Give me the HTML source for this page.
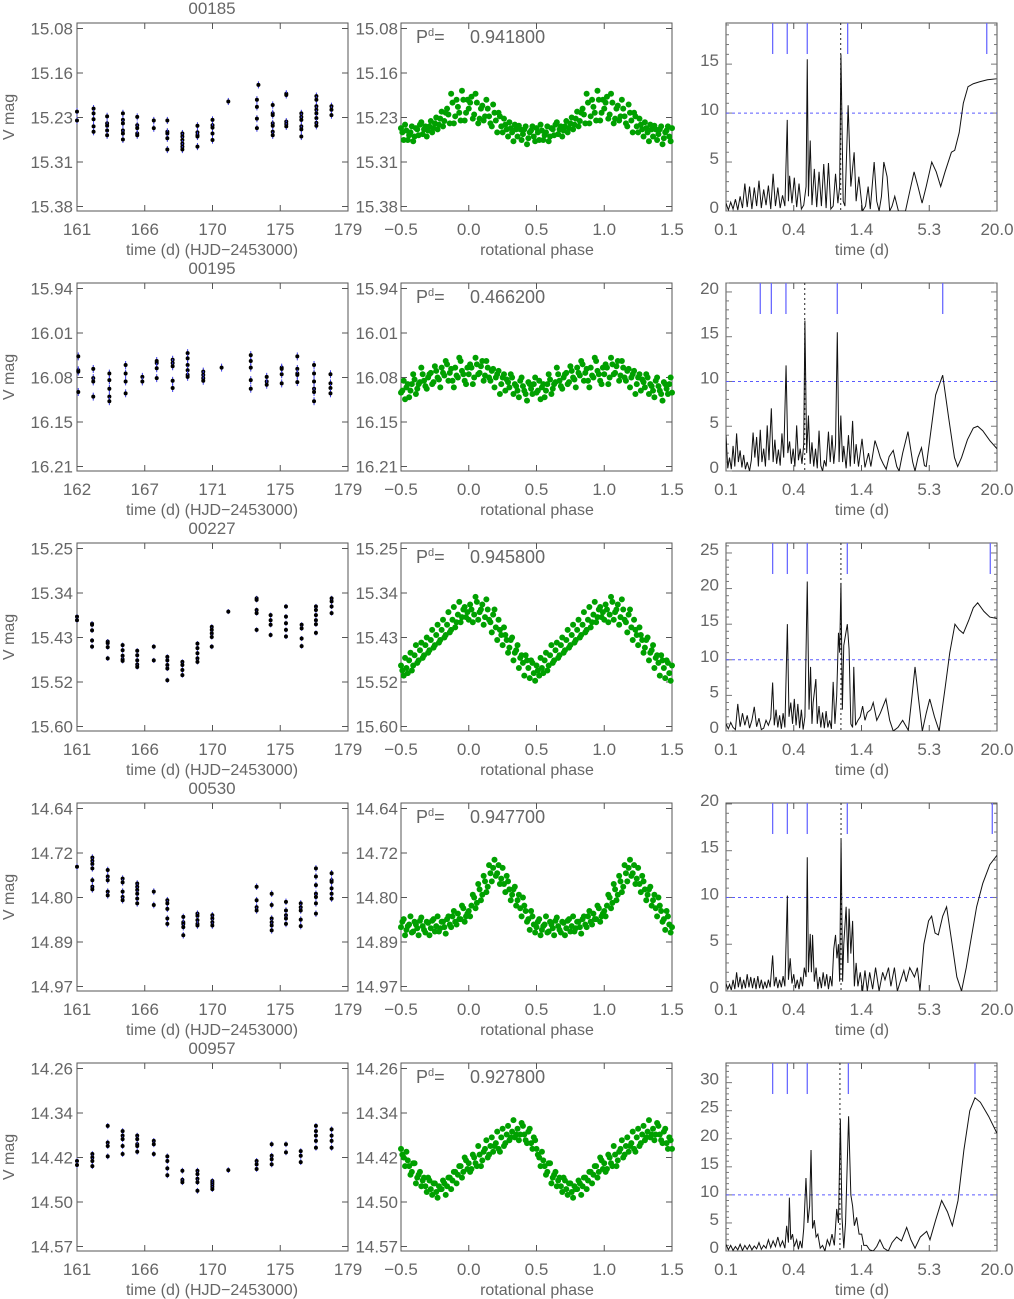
<!DOCTYPE html>
<html><head><meta charset="utf-8"><title>Light curves</title>
<style>
html,body{margin:0;padding:0;background:#fff;}
svg{display:block;}
text{font-family:"Liberation Sans",sans-serif;fill:#666;}
</style></head>
<body>
<svg id="chart" width="1014" height="1299" viewBox="0 0 1014 1299" xmlns="http://www.w3.org/2000/svg"></svg>
<script>
// ---------- data ----------
const starIds=['00185','00195','00227','00530','00957'];
const periods=[0.9418,0.4662,0.9458,0.9477,0.9278];
const periodLabels=['0.941800','0.466200','0.945800','0.947700','0.927800'];
const magTicks1=['15.08','15.16','15.23','15.31','15.38'];
const magTicks2=['15.94','16.01','16.08','16.15','16.21'];
const magTicks3=['15.25','15.34','15.43','15.52','15.60'];
const magTicks4=['14.64','14.72','14.80','14.89','14.97'];
const magTicks5=['14.26','14.34','14.42','14.50','14.57'];
const timeTicksA=['161','166','170','175','179'];
const timeTicksB=['162','167','171','175','179'];
const timeDomA=[161,179];
const timeDomB=[162,179];
const phaseTicks=['\u22120.5','0.0','0.5','1.0','1.5'];
const periodTicks=['0.1','0.4','1.4','5.3','20.0'];
const powerMax=[19.2,21.0,26.4,20.1,33.5];
const magErr=[0.006,0.006,0.005,0.006,0.005];

// light curve groups: [time, [mags]]
const lc1=[[161.0,[15.22,15.235]],[162.1,[15.215,15.223,15.233,15.245,15.254]],[163.0,[15.228,15.24,15.244,15.252,15.26]],[164.05,[15.223,15.234,15.24,15.252,15.257,15.267]],[165.0,[15.229,15.243,15.248,15.257,15.26]],[166.1,[15.235,15.248]],[167.0,[15.235,15.254,15.257,15.265,15.284]],[168.0,[15.257,15.262,15.268,15.274,15.279,15.284]],[169.0,[15.244,15.255,15.26,15.262,15.279]],[170.0,[15.234,15.243,15.247,15.257,15.268]],[171.05,[15.203]],[172.95,[15.2,15.212,15.232,15.248]],[173.05,[15.175]],[174.0,[15.209,15.223,15.226,15.24,15.244,15.254,15.26]],[174.9,[15.19,15.192,15.237,15.241,15.245]],[175.9,[15.223,15.229,15.234,15.245,15.25,15.262]],[176.9,[15.194,15.2,15.211,15.217,15.223,15.231,15.239,15.244]],[177.9,[15.211,15.217,15.226]]];
const lc2=[[162.08,[16.043,16.064,16.066,16.097]],[163.02,[16.062,16.076,16.081,16.104]],[164.03,[16.069,16.079,16.092,16.104,16.111]],[165.05,[16.056,16.069,16.081,16.099]],[166.1,[16.074,16.081]],[167.0,[16.053,16.061,16.076,16.05]],[168.0,[16.048,16.053,16.058,16.08,16.091]],[168.94,[16.038,16.046,16.056,16.064,16.071,16.074]],[169.92,[16.066,16.071,16.076,16.08]],[171.07,[16.06]],[172.9,[16.092,16.079,16.05,16.041,16.06]],[173.9,[16.081,16.086,16.074]],[174.84,[16.07,16.084,16.06,16.062]],[175.82,[16.043,16.062,16.069,16.071,16.082]],[176.87,[16.056,16.069,16.081,16.092,16.097,16.111]],[177.9,[16.07,16.084,16.091,16.099]]];
const lc3=[[161.0,[15.384,15.391]],[162.0,[15.398,15.4,15.411,15.431,15.443]],[163.04,[15.433,15.436,15.444,15.466]],[164.03,[15.44,15.45,15.461,15.468,15.471]],[165.0,[15.451,15.46,15.47,15.478,15.483]],[166.1,[15.443,15.47]],[167.0,[15.463,15.47,15.479,15.486,15.509]],[168.0,[15.473,15.479,15.489,15.499]],[169.0,[15.437,15.446,15.456,15.466,15.473]],[169.95,[15.404,15.41,15.417,15.424,15.443]],[171.05,[15.374]],[172.93,[15.348,15.351,15.371,15.377,15.41]],[173.86,[15.381,15.391,15.4,15.42]],[174.88,[15.364,15.384,15.397,15.41,15.423]],[175.92,[15.4,15.407,15.427,15.442]],[176.87,[15.364,15.371,15.381,15.391,15.399,15.416]],[177.91,[15.348,15.354,15.364,15.377]]];
const lc4=[[161.0,[14.748]],[162.02,[14.731,14.737,14.743,14.751,14.773,14.785,14.79]],[163.04,[14.754,14.766,14.773,14.794,14.801]],[164.03,[14.77,14.777,14.794,14.804,14.81]],[165.0,[14.779,14.785,14.791,14.798,14.807,14.816]],[166.1,[14.794,14.819]],[167.0,[14.81,14.816,14.826,14.844,14.854]],[168.06,[14.841,14.851,14.854,14.86,14.875]],[169.0,[14.835,14.839,14.847,14.854,14.857]],[169.99,[14.838,14.844,14.851,14.857]],[172.93,[14.785,14.81,14.823,14.829]],[173.93,[14.798,14.819,14.844,14.851,14.857,14.866]],[174.88,[14.813,14.829,14.838,14.844,14.854]],[175.86,[14.816,14.823,14.829,14.846,14.858]],[176.87,[14.751,14.766,14.782,14.798,14.804,14.816,14.835]],[177.91,[14.76,14.773,14.776,14.788,14.798,14.807]]];
const lc5=[[161.0,[14.421,14.428]],[162.02,[14.409,14.415,14.421,14.43]],[163.04,[14.36,14.389,14.395,14.413]],[164.03,[14.369,14.377,14.383,14.395,14.409]],[165.0,[14.377,14.383,14.392,14.395,14.405]],[166.1,[14.386,14.392,14.409]],[167.0,[14.413,14.421,14.434,14.446]],[168.0,[14.438,14.454,14.458]],[169.0,[14.438,14.444,14.452,14.458,14.473]],[169.99,[14.456,14.459,14.462,14.466,14.47]],[171.05,[14.437]],[172.93,[14.421,14.427,14.435]],[173.93,[14.392,14.412,14.418,14.427]],[174.88,[14.392,14.406]],[175.86,[14.404,14.412,14.423]],[176.87,[14.36,14.369,14.377,14.386,14.398]],[177.91,[14.366,14.377,14.386,14.398]]];

// phased light curves
const phases=[0,0.02,0.04,0.06,0.08,0.10,0.12,0.14,0.16,0.18,0.20,0.22,0.24,0.26,0.28,0.30,0.32,0.34,0.36,0.38,0.40,0.42,0.44,0.46,0.48,0.50,0.52,0.54,0.56,0.58,0.60,0.62,0.64,0.66,0.68,0.70,0.72,0.74,0.76,0.78,0.80,0.82,0.84,0.86,0.88,0.90,0.92,0.94,0.96,0.98];
const phasesB=[0.01,0.03,0.05,0.07,0.09,0.11,0.13,0.15,0.17,0.19,0.21,0.23,0.25,0.27,0.29,0.31,0.33,0.35,0.37,0.39,0.41,0.43,0.45,0.47,0.49,0.51,0.53,0.55,0.57,0.59,0.61,0.63,0.65,0.67,0.69,0.71,0.73,0.75,0.77,0.79,0.81,0.83,0.85,0.87,0.89,0.91,0.93,0.95,0.97,0.99];
const phMag1=[15.215,15.195,15.225,15.205,15.232,15.21,15.228,15.215,15.24,15.208,15.235,15.222,15.245,15.232,15.25,15.238,15.255,15.242,15.262,15.25,15.258,15.245,15.265,15.252,15.262,15.248,15.268,15.252,15.26,15.245,15.262,15.25,15.242,15.258,15.245,15.252,15.236,15.248,15.23,15.242,15.22,15.236,15.215,15.24,15.205,15.228,15.212,15.235,15.2,15.222];
const phMag1b=[15.205,15.232,15.19,15.24,15.215,15.235,15.2,15.228,15.245,15.222,15.255,15.228,15.255,15.242,15.262,15.248,15.27,15.25,15.244,15.268,15.25,15.275,15.255,15.245,15.27,15.255,15.242,15.268,15.255,15.27,15.248,15.26,15.238,15.25,15.262,15.245,15.255,15.24,15.25,15.232,15.245,15.222,15.225,15.19,15.24,15.2,15.222,15.185,15.235,15.2];
const phMag2=[16.07,16.06,16.075,16.055,16.068,16.05,16.072,16.06,16.08,16.062,16.075,16.065,16.085,16.07,16.078,16.09,16.075,16.085,16.095,16.08,16.088,16.1,16.082,16.092,16.085,16.098,16.08,16.09,16.105,16.085,16.078,16.092,16.082,16.07,16.088,16.075,16.068,16.082,16.065,16.078,16.06,16.072,16.055,16.068,16.08,16.06,16.075,16.05,16.07,16.085];
const phMag2b=[16.055,16.085,16.045,16.07,16.058,16.08,16.05,16.075,16.065,16.09,16.07,16.1,16.075,16.095,16.082,16.07,16.1,16.088,16.105,16.075,16.095,16.11,16.085,16.1,16.075,16.095,16.108,16.085,16.095,16.07,16.1,16.085,16.06,16.08,16.092,16.07,16.085,16.058,16.075,16.09,16.068,16.05,16.08,16.062,16.09,16.072,16.045,16.065,16.08,16.06];
const phMag3=[15.39,15.37,15.38,15.355,15.375,15.36,15.385,15.37,15.395,15.38,15.405,15.39,15.42,15.405,15.43,15.445,15.425,15.455,15.44,15.465,15.475,15.46,15.485,15.47,15.495,15.48,15.5,15.485,15.47,15.49,15.46,15.475,15.45,15.465,15.44,15.455,15.43,15.445,15.42,15.435,15.41,15.425,15.4,15.415,15.39,15.405,15.38,15.395,15.37,15.385];
const phMag3b=[15.36,15.395,15.345,15.39,15.37,15.4,15.35,15.39,15.415,15.37,15.43,15.41,15.44,15.42,15.455,15.43,15.47,15.45,15.485,15.46,15.5,15.47,15.505,15.475,15.51,15.49,15.465,15.495,15.455,15.48,15.44,15.47,15.435,15.46,15.425,15.45,15.41,15.44,15.4,15.43,15.39,15.42,15.375,15.41,15.365,15.395,15.355,15.385,15.365,15.375];
const phMag4=[14.83,14.82,14.805,14.815,14.79,14.8,14.775,14.785,14.76,14.75,14.765,14.745,14.77,14.78,14.765,14.79,14.8,14.785,14.81,14.825,14.805,14.83,14.845,14.83,14.855,14.86,14.845,14.865,14.855,14.87,14.85,14.862,14.848,14.858,14.87,14.852,14.862,14.845,14.858,14.868,14.85,14.86,14.845,14.855,14.84,14.85,14.835,14.845,14.825,14.84];
const phMag4b=[14.84,14.8,14.825,14.78,14.81,14.765,14.795,14.745,14.775,14.735,14.76,14.78,14.75,14.795,14.775,14.81,14.79,14.82,14.8,14.84,14.82,14.85,14.865,14.84,14.87,14.85,14.875,14.858,14.84,14.868,14.855,14.875,14.842,14.865,14.85,14.875,14.848,14.868,14.84,14.862,14.85,14.872,14.84,14.86,14.83,14.855,14.845,14.82,14.85,14.835];
const phMag5=[14.425,14.435,14.415,14.43,14.41,14.42,14.4,14.415,14.395,14.405,14.39,14.4,14.38,14.395,14.375,14.385,14.37,14.38,14.365,14.375,14.36,14.385,14.37,14.39,14.38,14.4,14.415,14.405,14.43,14.44,14.425,14.45,14.44,14.455,14.465,14.45,14.47,14.46,14.475,14.465,14.47,14.46,14.465,14.45,14.455,14.44,14.445,14.43,14.44,14.42];
const phMag5b=[14.44,14.41,14.425,14.395,14.43,14.405,14.385,14.41,14.38,14.395,14.37,14.405,14.365,14.39,14.36,14.38,14.35,14.375,14.385,14.355,14.375,14.39,14.365,14.4,14.385,14.41,14.43,14.42,14.445,14.425,14.46,14.445,14.465,14.45,14.475,14.455,14.48,14.46,14.485,14.47,14.455,14.48,14.45,14.47,14.44,14.46,14.43,14.45,14.415,14.435];

// periodograms: [log10 period (d), power]
const pg1=[[-1,0.8],[-0.98,0.1],[-0.96,0.9],[-0.94,0.2],[-0.92,1.2],[-0.9,0.1],[-0.88,1.5],[-0.86,0.3],[-0.84,2.8],[-0.82,0.4],[-0.8,2.5],[-0.78,0.2],[-0.76,2.4],[-0.74,0.5],[-0.72,3.1],[-0.7,0.3],[-0.68,2.2],[-0.66,0.6],[-0.64,2.6],[-0.62,0.2],[-0.6,3.8],[-0.58,0.5],[-0.56,2.4],[-0.54,0.3],[-0.52,1.6],[-0.5,0.5],[-0.48,9.3],[-0.47,1.0],[-0.46,3.6],[-0.44,0.8],[-0.42,3.4],[-0.4,0.4],[-0.38,2.8],[-0.36,0.2],[-0.34,0.6],[-0.32,2.5],[-0.31,15.5],[-0.3,1.5],[-0.285,7.2],[-0.27,0.6],[-0.25,4.3],[-0.23,0.4],[-0.21,4.0],[-0.19,0.5],[-0.17,4.8],[-0.15,0.3],[-0.13,4.9],[-0.11,0.2],[-0.09,0.5],[-0.07,3.8],[-0.05,0.8],[-0.035,2.5],[-0.024,16.0],[-0.005,1.0],[0.01,0.5],[0.037,10.8],[0.06,2.5],[0.088,6.0],[0.105,1.0],[0.128,3.5],[0.159,0],[0.185,0.5],[0.207,2.5],[0.225,0.2],[0.258,5.0],[0.28,1.0],[0.30,0],[0.32,1.5],[0.34,5.0],[0.368,3.5],[0.39,0],[0.41,0.5],[0.433,1.5],[0.464,0],[0.50,0],[0.524,0],[0.56,2.0],[0.597,4.0],[0.63,2.5],[0.665,0.8],[0.70,2.5],[0.747,5.0],[0.785,4.0],[0.823,2.5],[0.86,4.0],[0.914,6.0],[0.942,6.2],[0.98,8.0],[1.015,11.0],[1.055,12.7],[1.10,13.0],[1.154,13.2],[1.22,13.4],[1.296,13.5]];
const pg2=[[-1,4.0],[-0.985,0.3],[-0.97,1.5],[-0.955,0.2],[-0.94,2.8],[-0.925,0.5],[-0.91,4.2],[-0.895,1.0],[-0.88,2.3],[-0.865,0.4],[-0.85,1.8],[-0.835,0.2],[-0.82,1.0],[-0.8,0],[-0.785,1.2],[-0.77,4.3],[-0.755,1.5],[-0.74,3.8],[-0.725,0.5],[-0.709,4.6],[-0.695,1.0],[-0.68,2.5],[-0.665,0.5],[-0.65,5.1],[-0.635,1.2],[-0.615,7.0],[-0.6,1.0],[-0.585,3.5],[-0.57,0.8],[-0.555,2.4],[-0.54,0.6],[-0.525,4.2],[-0.51,1.5],[-0.49,11.8],[-0.475,2.0],[-0.46,3.3],[-0.445,0.8],[-0.43,2.5],[-0.415,0.5],[-0.4,5.1],[-0.385,1.2],[-0.37,2.5],[-0.355,0.8],[-0.34,3.0],[-0.33,16.8],[-0.315,2.0],[-0.3,6.2],[-0.285,0.8],[-0.27,3.2],[-0.255,0.5],[-0.24,2.5],[-0.225,0.3],[-0.21,4.5],[-0.195,0.6],[-0.18,0],[-0.165,1.2],[-0.15,0.5],[-0.13,4.4],[-0.115,1.0],[-0.1,4.0],[-0.085,0.8],[-0.07,3.0],[-0.055,15.5],[-0.04,1.0],[-0.025,6.2],[-0.01,1.0],[0.0,2.8],[0.02,0.3],[0.04,4.0],[0.055,0.5],[0.075,5.6],[0.09,0.8],[0.105,3.0],[0.125,0.5],[0.155,3.6],[0.18,0.4],[0.21,2.0],[0.23,0.5],[0.265,3.4],[0.29,2.4],[0.31,1.5],[0.335,0.8],[0.36,0.2],[0.385,1.6],[0.42,2.3],[0.45,0.5],[0.47,0],[0.5,2.0],[0.545,4.4],[0.585,1.0],[0.605,0],[0.63,1.5],[0.66,2.6],[0.685,0.6],[0.7,0.5],[0.73,3.5],[0.78,8.5],[0.84,10.7],[0.89,6.0],[0.94,1.5],[0.967,0.5],[1.0,1.5],[1.05,3.5],[1.1,4.8],[1.137,5.0],[1.18,4.5],[1.24,3.4],[1.3,2.5]];
const pg3=[[-1,1.0],[-0.98,0.3],[-0.96,1.2],[-0.94,0.5],[-0.92,0.2],[-0.9,3.8],[-0.88,0.6],[-0.86,2.5],[-0.84,0.8],[-0.82,2.2],[-0.8,0.4],[-0.78,1.5],[-0.76,3.4],[-0.74,0.6],[-0.72,1.8],[-0.7,0.2],[-0.68,0.4],[-0.66,1.5],[-0.64,0.8],[-0.62,1.8],[-0.604,6.8],[-0.59,0.8],[-0.575,3.0],[-0.56,0.5],[-0.545,2.2],[-0.53,0.3],[-0.515,2.5],[-0.5,0.5],[-0.479,15.0],[-0.465,2.0],[-0.45,4.0],[-0.435,1.0],[-0.42,4.5],[-0.405,0.8],[-0.39,3.8],[-0.375,0.4],[-0.36,3.0],[-0.345,0.2],[-0.33,2.0],[-0.31,21.0],[-0.295,3.0],[-0.282,9.0],[-0.27,1.0],[-0.26,4.0],[-0.237,7.3],[-0.225,1.0],[-0.21,3.5],[-0.195,0.5],[-0.18,2.6],[-0.165,0.4],[-0.15,2.8],[-0.135,0.5],[-0.12,1.5],[-0.105,0.3],[-0.09,6.9],[-0.075,1.0],[-0.06,5.0],[-0.045,13.8],[-0.035,11.0],[-0.024,20.8],[-0.012,3.0],[0.0,12.0],[0.03,15.0],[0.045,11.5],[0.06,1.0],[0.075,0.5],[0.085,9.0],[0.1,0.8],[0.12,1.5],[0.14,2.0],[0.16,3.5],[0.18,1.5],[0.2,2.6],[0.23,3.0],[0.25,4.0],[0.28,1.5],[0.31,2.5],[0.358,4.5],[0.39,1.5],[0.42,0],[0.46,0.5],[0.5,1.5],[0.548,0.1],[0.58,5.0],[0.605,9.0],[0.635,4.5],[0.667,0],[0.7,2.5],[0.73,4.5],[0.77,2.0],[0.81,0],[0.86,6.0],[0.9,11.0],[0.944,15.0],[0.98,14.2],[1.015,13.7],[1.06,15.5],[1.1,17.3],[1.137,18.0],[1.19,16.8],[1.24,16.0],[1.3,15.8]];
const pg4=[[-1,0.8],[-0.985,0.2],[-0.97,0.7],[-0.955,0.1],[-0.94,1.2],[-0.925,0.2],[-0.91,2.0],[-0.895,0.4],[-0.88,1.5],[-0.865,0.2],[-0.85,1.2],[-0.835,0.3],[-0.82,1.8],[-0.805,0.4],[-0.79,1.5],[-0.775,0.3],[-0.76,1.4],[-0.745,0.2],[-0.73,1.6],[-0.715,0.3],[-0.7,1.2],[-0.685,0.2],[-0.67,1.0],[-0.655,0.3],[-0.64,1.2],[-0.625,0.4],[-0.604,3.8],[-0.59,0.5],[-0.575,1.5],[-0.56,0.3],[-0.545,1.2],[-0.53,0.4],[-0.515,1.6],[-0.5,0.5],[-0.479,10.2],[-0.47,1.2],[-0.455,3.5],[-0.44,0.8],[-0.425,1.8],[-0.41,0.3],[-0.395,1.2],[-0.38,0.2],[-0.365,1.5],[-0.35,0.5],[-0.335,2.5],[-0.32,1.5],[-0.31,14.3],[-0.3,2.0],[-0.285,6.1],[-0.275,2.0],[-0.265,6.0],[-0.25,1.0],[-0.235,2.5],[-0.22,0.2],[-0.205,1.5],[-0.19,0.3],[-0.175,2.0],[-0.16,0.5],[-0.145,1.8],[-0.13,0.2],[-0.115,1.6],[-0.1,0.5],[-0.085,4.5],[-0.07,6.0],[-0.058,3.5],[-0.045,5.0],[-0.035,1.0],[-0.023,16.2],[-0.01,1.0],[0.0,5.0],[0.02,9.0],[0.035,3.0],[0.045,8.8],[0.06,4.0],[0.075,7.5],[0.09,0.5],[0.105,3.0],[0.12,0.5],[0.14,2.0],[0.16,0],[0.18,2.2],[0.2,0],[0.22,2.0],[0.245,0.2],[0.27,2.5],[0.3,0],[0.33,2.0],[0.35,1.2],[0.38,2.5],[0.4,0.5],[0.43,2.5],[0.455,0],[0.48,1.0],[0.51,2.2],[0.53,1.0],[0.56,2.5],[0.6,1.5],[0.625,2.5],[0.647,0],[0.68,5.0],[0.72,7.5],[0.746,8.0],[0.775,6.2],[0.803,6.0],[0.84,8.0],[0.873,9.0],[0.92,5.0],[0.96,1.5],[1.0,0],[1.04,2.5],[1.08,5.5],[1.128,9.0],[1.18,11.5],[1.24,13.5],[1.3,14.5]];
const pg5=[[-1,1.2],[-0.98,0.2],[-0.96,1.0],[-0.94,0.1],[-0.92,0.8],[-0.9,0.2],[-0.88,1.2],[-0.86,0.1],[-0.84,1.0],[-0.82,0.3],[-0.8,1.1],[-0.78,0.2],[-0.76,0.9],[-0.74,0.4],[-0.72,1.5],[-0.7,0.3],[-0.68,1.0],[-0.66,0.5],[-0.64,2.0],[-0.62,0.6],[-0.6,1.8],[-0.58,0.8],[-0.56,2.5],[-0.54,0.8],[-0.52,1.8],[-0.5,0.5],[-0.485,4.5],[-0.47,1.5],[-0.462,9.5],[-0.45,2.0],[-0.435,3.0],[-0.42,0.8],[-0.4,2.0],[-0.385,0.3],[-0.37,1.8],[-0.355,0.5],[-0.34,4.0],[-0.321,13.0],[-0.305,5.0],[-0.29,8.0],[-0.278,18.0],[-0.265,4.0],[-0.25,5.5],[-0.235,2.5],[-0.22,3.0],[-0.2,0.5],[-0.18,1.0],[-0.16,0],[-0.14,2.0],[-0.12,1.0],[-0.1,3.0],[-0.08,1.0],[-0.06,7.5],[-0.045,5.0],[-0.029,23.5],[-0.015,6.0],[0.0,0.5],[0.015,5.0],[0.041,24.0],[0.06,10.0],[0.075,8.0],[0.09,4.5],[0.109,6.0],[0.13,3.0],[0.152,3.0],[0.17,1.0],[0.194,1.0],[0.22,0.2],[0.25,0],[0.28,0.8],[0.307,2.0],[0.34,0.5],[0.378,0],[0.41,1.5],[0.449,2.5],[0.49,1.8],[0.534,4.2],[0.57,2.0],[0.605,0.5],[0.65,2.5],[0.704,3.5],[0.732,2.0],[0.78,5.5],[0.831,9.0],[0.88,7.0],[0.922,4.5],[0.97,9.0],[1.02,18.0],[1.07,25.0],[1.114,27.3],[1.16,26.5],[1.23,24.0],[1.3,21.0]];

// candidate period markers (log10 days)
const marks1=[-0.604,-0.48,-0.31,0.033,1.214];
const marks2=[-0.709,-0.615,-0.491,-0.055,0.84];
const marks3=[-0.604,-0.479,-0.31,0.03,1.244];
const marks4=[-0.604,-0.479,-0.31,0.03,1.261];
const marks5=[-0.604,-0.479,-0.31,0.039,1.114];
const thresholdPower=10;

// ---------- drawing ----------
const NS='http://www.w3.org/2000/svg';
const svg=document.getElementById('chart');
function mk(tag,attrs,parent){const e=document.createElementNS(NS,tag);for(const k in attrs)e.setAttribute(k,attrs[k]);(parent||svg).appendChild(e);return e;}
function txt(s,x,y,anchor,parent,size){const e=mk('text',{x:x,y:y,'text-anchor':anchor||'middle','font-size':size||16},parent);e.textContent=s;return e;}

const H=188, PW=271;
const X1=77, X2=401, X3=726;
function xTime(t,dom){return X1+(t-dom[0])/(dom[1]-dom[0])*PW;}
function xPhase(p){return X2+(p+0.5)/2*PW;}
function xLogP(l){return X3+(l+1)/2.30103*PW;}
function yMag(m,ticks,T){const a=parseFloat(ticks[0]),b=parseFloat(ticks[4]);return T+5.5+(m-a)/(b-a)*(H-10);}
function yPow(v,pmax,T){return T+H-v/pmax*H;}

const rowDefs=[
 {lc:lc1,ph:phMag1,phb:phMag1b,pg:pg1,mk:marks1,mt:magTicks1,tt:timeTicksA,td:timeDomA},
 {lc:lc2,ph:phMag2,phb:phMag2b,pg:pg2,mk:marks2,mt:magTicks2,tt:timeTicksB,td:timeDomB},
 {lc:lc3,ph:phMag3,phb:phMag3b,pg:pg3,mk:marks3,mt:magTicks3,tt:timeTicksA,td:timeDomA},
 {lc:lc4,ph:phMag4,phb:phMag4b,pg:pg4,mk:marks4,mt:magTicks4,tt:timeTicksA,td:timeDomA},
 {lc:lc5,ph:phMag5,phb:phMag5b,pg:pg5,mk:marks5,mt:magTicks5,tt:timeTicksA,td:timeDomA}
];

const defs=mk('defs',{});
rowDefs.forEach((R,r)=>{
  const T=23+260*r, B=T+H;
  const g=mk('g',{});
  
  

  const cp=mk('clipPath',{id:'clip'+r},defs);
  mk('rect',{x:X3,y:T,width:PW,height:H},cp);

  const ti=txt(starIds[r],212,T-9,'middle',g,17);
  
  

  [X1,X2,X3].forEach((x0,ci)=>{
    const fr=mk('rect',{x:x0,y:T,width:PW,height:H,fill:'none',stroke:'#555','stroke-width':1},g);
    
    
  });

  // ---- light curve ----
  const lcg=mk('g',{},g);
  
  
  R.mt.forEach((lab,i)=>{
    const y=yMag(parseFloat(R.mt[0])+i*(parseFloat(R.mt[4])-parseFloat(R.mt[0]))/4,R.mt,T);
    mk('line',{x1:X1,x2:X1+6,y1:y,y2:y,stroke:'#555'},lcg);
    mk('line',{x1:X1+PW-6,x2:X1+PW,y1:y,y2:y,stroke:'#555'},lcg);
    mk('line',{x1:X2,x2:X2+6,y1:y,y2:y,stroke:'#555'},lcg);
    mk('line',{x1:X2+PW-6,x2:X2+PW,y1:y,y2:y,stroke:'#555'},lcg);
    const l1=txt(lab,73,y+6,'end',lcg,17);
    
    
    const l2=txt(lab,398,y+6,'end',lcg,17);
    
    
  });
  R.tt.forEach((lab,i)=>{
    const x=X1+i*PW/4;
    mk('line',{x1:x,x2:x,y1:B,y2:B-6,stroke:'#555'},lcg);
    mk('line',{x1:x,x2:x,y1:T,y2:T+6,stroke:'#555'},lcg);
    const l=txt(lab,x,B+24,'middle',lcg,17);
    
    
  });
  const vm=txt('V mag',0,0,'middle',lcg,16);
  vm.setAttribute('transform','translate(14,'+(T+94)+') rotate(-90)');
  
  
  const xt=txt('time (d) (HJD\u22122453000)',212,B+44,'middle',lcg,16);
  
  
  R.lc.forEach(grp=>{
    const t=grp[0];
    grp[1].forEach(m=>{
      const x=xTime(t,R.td), y=yMag(m,R.mt,T);
      const eb=mk('line',{x1:x,x2:x,y1:yMag(m-magErr[r],R.mt,T),y2:yMag(m+magErr[r],R.mt,T),stroke:'#3838e8','stroke-width':1},lcg);
      
      
      const c=mk('circle',{cx:x,cy:y,r:2,fill:'#000'},lcg);
      
      
    });
  });

  // ---- phase plot ----
  const phg=mk('g',{},g);
  
  
  phaseTicks.forEach((lab,i)=>{
    const x=X2+i*PW/4;
    mk('line',{x1:x,x2:x,y1:B,y2:B-6,stroke:'#555'},phg);
    mk('line',{x1:x,x2:x,y1:T,y2:T+6,stroke:'#555'},phg);
    const l=txt(lab,x,B+24,'middle',phg,17);
    
    
  });
  const pt=txt('rotational phase',537,B+44,'middle',phg,16);
  
  
  const pl=mk('text',{x:416,y:T+20,'font-size':18},phg);
  
  
  pl.appendChild(document.createTextNode('P'));
  const sup=mk('tspan',{'font-size':11,dy:-7},pl); sup.textContent='d';
  const eq=mk('tspan',{dy:7,'font-size':18},pl); eq.textContent='=';
  const pv=txt(periodLabels[r],470,T+20,'start',phg,18);
  
  
  [[phases,R.ph],[phasesB,R.phb]].forEach(set=>{
    set[0].forEach((p,i)=>{
      [p-1,p,p+1].forEach(pp=>{
        if(pp<-0.5||pp>1.5)return;
        const c=mk('circle',{cx:xPhase(pp),cy:yMag(set[1][i],R.mt,T),r:3,fill:'#00a000'},phg);
        
        
      });
    });
  });

  // ---- periodogram ----
  const pgg=mk('g',{},g);
  
  
  const pmax=powerMax[r];
  for(let v=0;v<=pmax;v+=1){
    const y=yPow(v,pmax,T), len=(v%5===0)?6:3;
    mk('line',{x1:X3,x2:X3+len,y1:y,y2:y,stroke:'#777'},pgg);
    mk('line',{x1:X3+PW-len,x2:X3+PW,y1:y,y2:y,stroke:'#777'},pgg);
    if(v%5===0){
      const l=txt(String(v),719,y+2,'end',pgg,17);
      
      
    }
  }
  periodTicks.forEach((lab,i)=>{
    const x=X3+i*PW/4;
    mk('line',{x1:x,x2:x,y1:B,y2:B-6,stroke:'#555'},pgg);
    mk('line',{x1:x,x2:x,y1:T,y2:T+6,stroke:'#555'},pgg);
    const l=txt(lab,x,B+24,'middle',pgg,17);
    
    
  });
  const pgt=txt('time (d)',862,B+44,'middle',pgg,16);
  
  
  const th=mk('line',{x1:X3,x2:X3+PW,y1:yPow(thresholdPower,pmax,T),y2:yPow(thresholdPower,pmax,T),stroke:'#5a5aff','stroke-width':1,'stroke-dasharray':'3,3'},pgg);
  
  
  R.mk.forEach(l=>{
    const x=xLogP(l);
    const m=mk('line',{x1:x,x2:x,y1:T,y2:T+31,stroke:'#6a6aff','stroke-width':1.3},pgg);
    
    
  });
  const xp=xLogP(Math.log10(periods[r]));
  const dl=mk('line',{x1:xp,x2:xp,y1:T,y2:B,stroke:'#222','stroke-width':1,'stroke-dasharray':'2,3'},pgg);
  
  
  const d=R.pg.map((p,i)=>(i?'L':'M')+xLogP(p[0]).toFixed(2)+','+yPow(p[1],pmax,T).toFixed(2)).join(' ');
  const path=mk('path',{d:d,fill:'none',stroke:'#111','stroke-width':1,'clip-path':'url(#clip'+r+')'},pgg);
  
  
});
</script>
</body></html>
